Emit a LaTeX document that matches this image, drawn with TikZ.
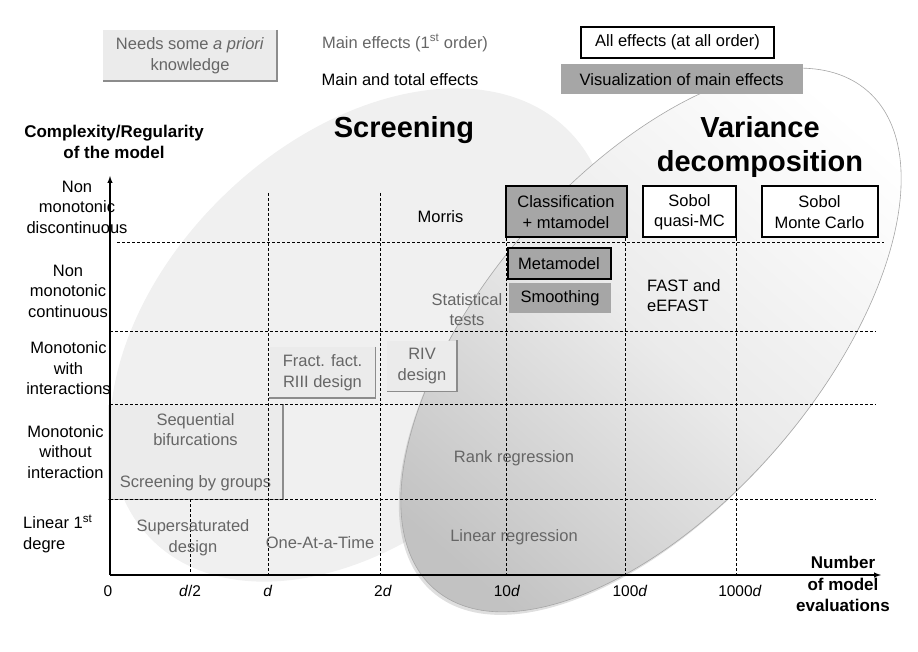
\documentclass[tikz,border=0pt]{standalone}
\usepackage{fontspec}
\setmainfont{Liberation Sans}
\usetikzlibrary{shadows}

\begin{document}
\begin{tikzpicture}[x=1pt, y=-1pt,
  every node/.style={font=\fontsize{16.5}{20.5}\selectfont, align=center, inner sep=0pt},
  grid/.style={black, line width=0.7pt, dash pattern=on 3pt off 2pt},
  axis/.style={black, line width=1.4pt, ->, >=latex},
  greytext/.style={text=black!60},
  stonebox/.style={fill=black!8, text=black!60},
  stoneedge/.style={black!45, line width=1.5pt},
  frame/.style={draw=black, line width=2pt},
  whitebox/.style={frame, fill=white},
  greybox/.style={fill=black!35},
  title/.style={font=\fontsize{29}{33.5}\selectfont\bfseries},
  axistitle/.style={font=\fontsize{17}{21.5}\selectfont\bfseries},
  ticklabel/.style={font=\fontsize{15.5}{18}\selectfont}]
\useasboundingbox (0,0) rectangle (918,652);
\fill[black!6, rotate around={44:(360,335)}] (360,335) ellipse [x radius=292, y radius=195];
\shade[top color=white, bottom color=black!24, middle color=black!8, shading angle=-41,
  draw=black!35, line width=0.6pt, drop shadow={shadow xshift=-2pt, shadow yshift=-3pt, opacity=0.25},
  rotate around={49:(651,340)}] (651,340) ellipse [x radius=330, y radius=166];
\node[stonebox, minimum width=174, minimum height=51] (apriori) at (190,55.5) {Needs some \textit{a priori}\\knowledge};
\node[stonebox, minimum width=106, minimum height=51] (fract) at (322.5,372.5) {Fract. fact.\\RIII design};
\node[stonebox, minimum width=70, minimum height=51] (riv) at (422,366) {RIV\\design};
\node[stonebox, minimum width=175, minimum height=95] (seqbif) at (195.5,452) {Sequential\\bifurcations\\[21pt]Screening by groups};
\foreach \b in {apriori,fract,riv,seqbif}
  \draw[stoneedge] (\b.north east) -- (\b.south east) -- (\b.south west);
\draw[grid] (117,242) -- (884,242);
\foreach \y in {331,404,499}
  \draw[grid] (110,\y) -- (876,\y);
\draw[grid] (190,499) -- (190,575);
\foreach \x in {268,380,506,625,736}
  \draw[grid] (\x,193) -- (\x,575);
\coordinate (origin) at (110,575);
\coordinate (ytop) at (110,176);
\coordinate (xend) at (881,575);
\draw[axis] (origin) -- (ytop);
\draw[axis] (origin) -- (xend);
\node[greytext] (maineff) at (405,43) {Main effects (1\textsuperscript{st} order)};
\node (maintotal) at (400,80) {Main and total effects};
\node[whitebox, minimum width=193, minimum height=31] (alleff) at (677.5,42.2) {All effects (at all order)};
\node[greybox, minimum width=242, minimum height=30] (visu) at (681.7,79.2) {Visualization of main effects};
\node[title] (screening) at (404,130) {Screening};
\node[title] (variance) at (760,147) {Variance\\decomposition};
\node[axistitle] (ytitle) at (114,142) {Complexity/Regularity\\of the model};
\node[axistitle] (xtitle) at (843,584) {Number\\of model\\evaluations};
\node (row1) at (77,207) {Non\\monotonic\\discontinuous};
\node (row2) at (68,291) {Non\\monotonic\\continuous};
\node (row3) at (68.5,368.5) {Monotonic\\with\\interactions};
\node (row4) at (65.5,452) {Monotonic\\without\\interaction};
\node[anchor=west, align=left] (row5) at (23,534) {Linear 1\textsuperscript{st}\\degre};
\foreach \x/\t [count=\i] in {108/0, 190/{\textit{d}/2}, 268/\textit{d}, 383/2\textit{d}, 507/10\textit{d}, 630/100\textit{d}, 740/1000\textit{d}}
  \node[ticklabel] (tick\i) at (\x,591) {\t};
\node (morris) at (440.5,217) {Morris};
\node[frame, greybox, minimum width=121, minimum height=51] (classif) at (566,212) {Classification\\+ mtamodel};
\node[whitebox, minimum width=93, minimum height=51] (sobolqmc) at (689.5,212) {Sobol\\quasi-MC};
\node[whitebox, minimum width=116, minimum height=51] (sobolmc) at (819.5,212) {Sobol\\Monte Carlo};
\node[frame, greybox, minimum width=103, minimum height=31] (metamodel) at (559,264) {Metamodel};
\node[greybox, minimum width=102, minimum height=30] (smoothing) at (560,298) {Smoothing};
\node[greytext] (stattests) at (467,309.5) {Statistical\\tests};
\node[anchor=west, align=left] (fast) at (647,295.5) {FAST and\\eEFAST};
\node[greytext] (rankreg) at (514,458) {Rank regression};
\node[greytext] (supersat) at (193,537.5) {Supersaturated\\design};
\node[greytext] (ofat) at (320,543) {One-At-a-Time};
\node[greytext] (linreg) at (514,537) {Linear regression};
\end{tikzpicture}
\end{document}
